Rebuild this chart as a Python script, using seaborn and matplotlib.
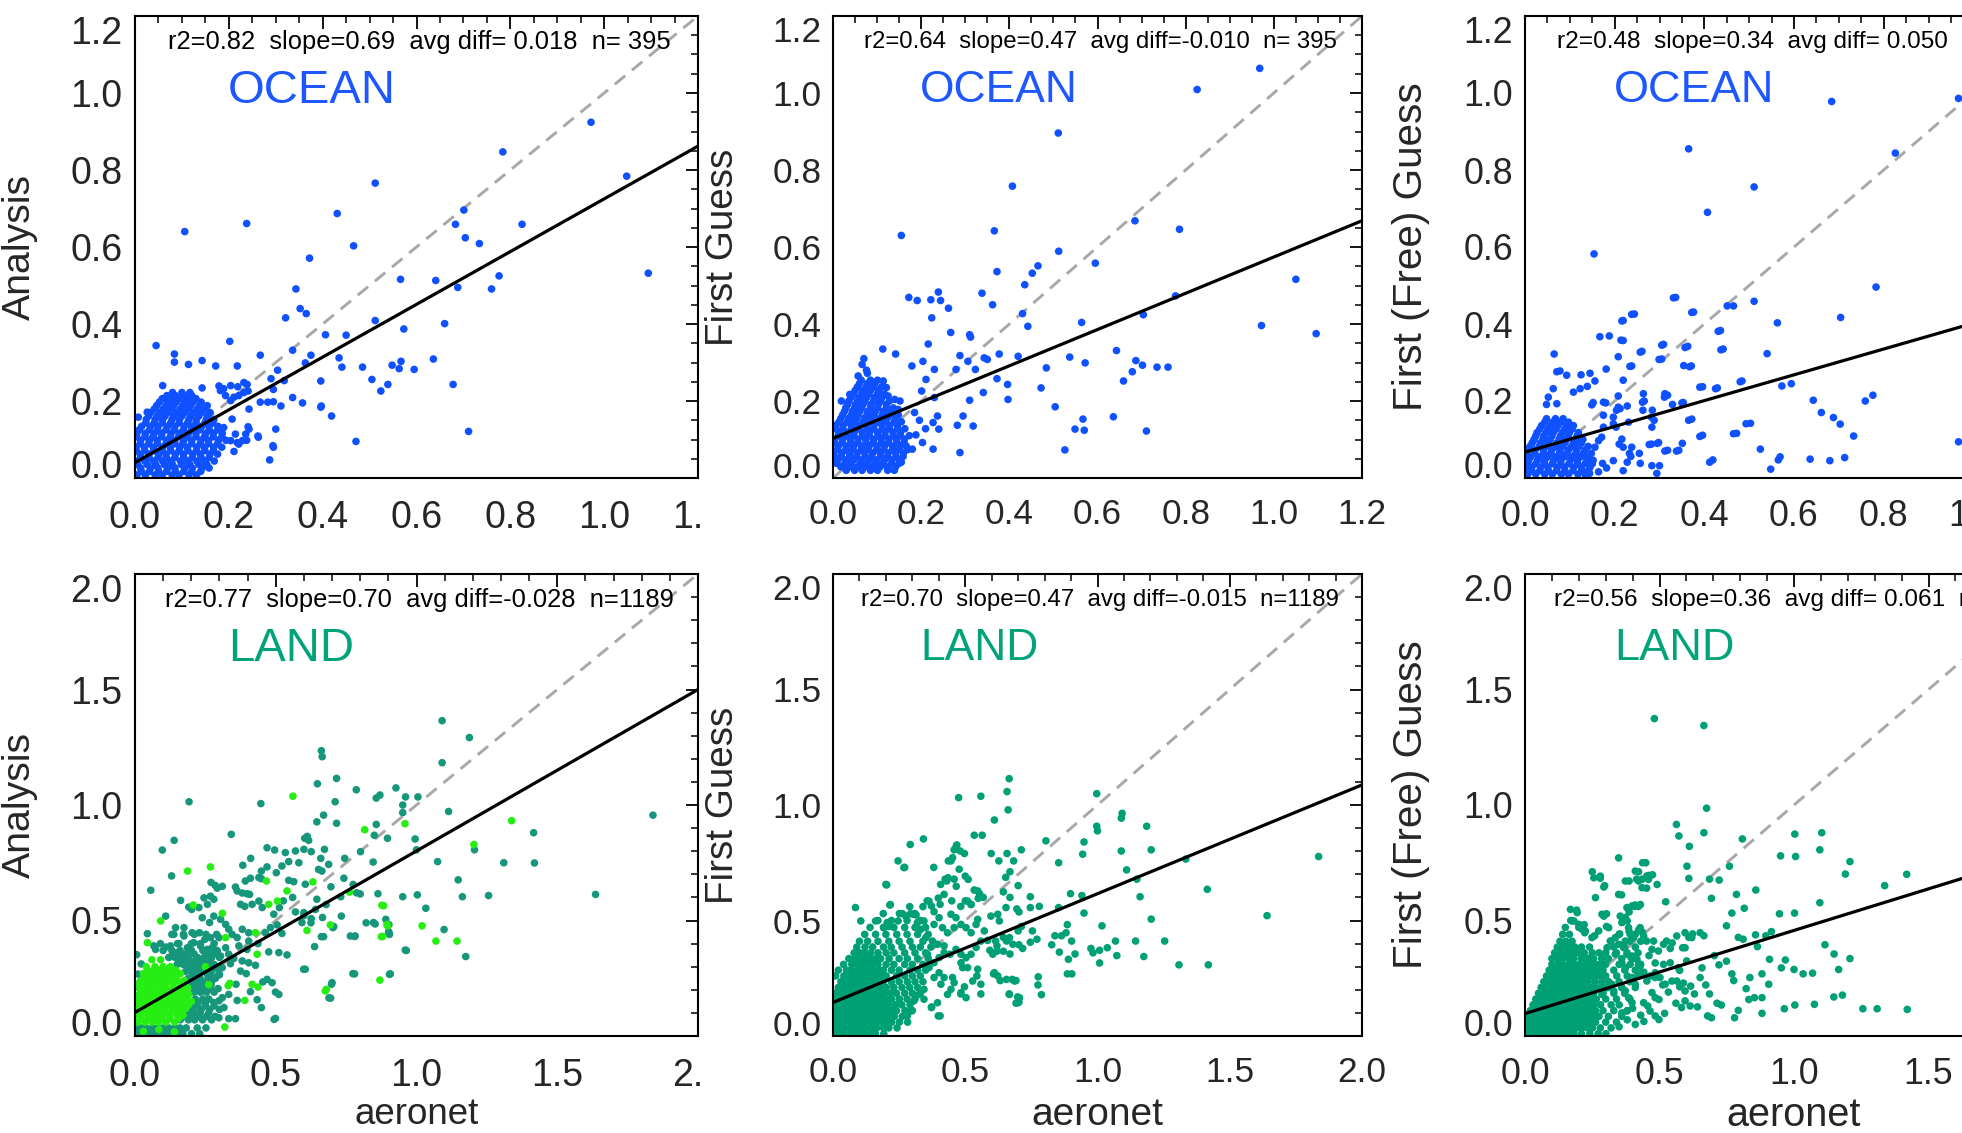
import matplotlib
matplotlib.use("Agg")
import matplotlib.pyplot as plt
import seaborn as sns
import pandas as pd
from matplotlib.ticker import MultipleLocator, FormatStrFormatter
from matplotlib.transforms import Bbox, TransformedBbox

# ---------------- data ----------------
y_labels = ["Analysis", "First Guess", "First (Free) Guess"]
x_label = "aeronet"
region_names = ["OCEAN", "LAND"]
stats_text = [
    "r2=0.82  slope=0.69  avg diff= 0.018  n= 395",
    "r2=0.64  slope=0.47  avg diff=-0.010  n= 395",
    "r2=0.48  slope=0.34  avg diff= 0.050  n= 395",
    "r2=0.77  slope=0.70  avg diff=-0.028  n=1189",
    "r2=0.70  slope=0.47  avg diff=-0.015  n=1189",
    "r2=0.56  slope=0.36  avg diff= 0.061  n=1189",
]
fit_intercepts = [0.040, 0.103, 0.067, 0.102, 0.145, 0.097]
fit_slopes = [0.685, 0.471, 0.335, 0.699, 0.471, 0.360]
ticks_ocean = [0.0, 0.2, 0.4, 0.6, 0.8, 1.0, 1.2]
ticks_land = [0.0, 0.5, 1.0, 1.5, 2.0]

# ---- ocean: analysis ----
oc_ana_pts = [
    (0.972, 0.924), (1.048, 0.784), (1.094, 0.532), (0.784, 0.847), (0.825, 0.659), (0.512, 0.766),
    (0.431, 0.687), (0.238, 0.661), (0.106, 0.640), (0.466, 0.603), (0.372, 0.571), (0.701, 0.696),
    (0.683, 0.659), (0.704, 0.624), (0.734, 0.609), (0.776, 0.525), (0.760, 0.491), (0.688, 0.495),
    (0.641, 0.513), (0.566, 0.516), (0.512, 0.409), (0.573, 0.387), (0.660, 0.401), (0.343, 0.491),
    (0.352, 0.440), (0.365, 0.427), (0.321, 0.416), (0.406, 0.372), (0.450, 0.371), (0.202, 0.355),
    (0.045, 0.344), (0.084, 0.322), (0.084, 0.301), (0.114, 0.295), (0.143, 0.305), (0.172, 0.291),
    (0.218, 0.291), (0.267, 0.319), (0.336, 0.332), (0.375, 0.319), (0.363, 0.299), (0.435, 0.312),
    (0.441, 0.288), (0.485, 0.288), (0.548, 0.293), (0.563, 0.284), (0.567, 0.303), (0.595, 0.282),
    (0.636, 0.309), (0.505, 0.256), (0.539, 0.243), (0.524, 0.226), (0.678, 0.243), (0.711, 0.121),
    (0.471, 0.095), (0.396, 0.252), (0.419, 0.161), (0.397, 0.187), (0.304, 0.280), (0.290, 0.258),
    (0.318, 0.253), (0.295, 0.230), (0.295, 0.198), (0.311, 0.187), (0.336, 0.209), (0.357, 0.195),
    (0.267, 0.197), (0.283, 0.197), (0.262, 0.109), (0.294, 0.084), (0.287, 0.047), (0.241, 0.133),
    (0.211, 0.069), (0.238, 0.098), (0.218, 0.092), (0.059, 0.240), (0.143, 0.234), (0.026, 0.171),
    (0.007, 0.158), (0.396, 0.184), (0.243, 0.179), (0.243, 0.127), (0.263, 0.106), (0.300, 0.127),
    (0.295, 0.080), (0.179, 0.239), (0.189, 0.232), (0.204, 0.240), (0.219, 0.237), (0.232, 0.248),
    (0.239, 0.243), (0.182, 0.227), (0.193, 0.214), (0.204, 0.201), (0.211, 0.210), (0.221, 0.214),
    (0.232, 0.222), (0.241, 0.226), (0.207, 0.153), (0.189, 0.131), (0.214, 0.114), (0.204, 0.097),
    (0.221, 0.088), (0.229, 0.097), (0.236, 0.114),
]
oc_ana_core = [
    (0.008, [0.004, 0.022, 0.043, 0.058, 0.079, 0.094, 0.115, 0.131]),
    (0.017, [0.013, 0.031, 0.050, 0.067, 0.086, 0.104, 0.121, 0.140]),
    (0.026, [0.012, 0.033, 0.049, 0.070, 0.085, 0.106, 0.122, 0.143, 0.158]),
    (0.035, [0.006, 0.026, 0.044, 0.063, 0.080, 0.099, 0.117, 0.136, 0.153]),
    (0.044, [0.003, 0.021, 0.040, 0.059, 0.076, 0.097, 0.112, 0.132, 0.149, 0.169]),
    (0.053, [0.012, 0.030, 0.049, 0.067, 0.085, 0.104, 0.122, 0.141, 0.158]),
    (0.062, [0.011, 0.030, 0.050, 0.066, 0.086, 0.103, 0.123, 0.139, 0.160, 0.176]),
    (0.071, [0.003, 0.021, 0.040, 0.058, 0.076, 0.094, 0.113, 0.131, 0.149, 0.167]),
    (0.080, [0.002, 0.020, 0.039, 0.059, 0.075, 0.095, 0.111, 0.132, 0.148, 0.168, 0.185]),
    (0.089, [0.011, 0.029, 0.048, 0.066, 0.084, 0.102, 0.121, 0.139, 0.157, 0.176]),
    (0.098, [0.012, 0.031, 0.047, 0.068, 0.084, 0.104, 0.121, 0.141, 0.157, 0.178, 0.194]),
    (0.107, [0.003, 0.021, 0.038, 0.057, 0.075, 0.093, 0.112, 0.130, 0.148, 0.167, 0.185]),
    (0.116, [0.004, 0.022, 0.041, 0.057, 0.077, 0.094, 0.114, 0.130, 0.151, 0.167, 0.186]),
    (0.125, [0.009, 0.031, 0.048, 0.066, 0.084, 0.103, 0.121, 0.139, 0.158, 0.176]),
    (0.134, [0.014, 0.033, 0.049, 0.069, 0.085, 0.105, 0.121, 0.142, 0.158, 0.177]),
    (0.143, [0.023, 0.041, 0.058, 0.076, 0.094, 0.112, 0.130, 0.149, 0.166]),
    (0.152, [0.024, 0.043, 0.059, 0.079, 0.095, 0.115, 0.131, 0.152, 0.168]),
    (0.161, [0.029, 0.047, 0.064, 0.082, 0.100, 0.118, 0.136, 0.154]),
    (0.170, [0.033, 0.053, 0.069, 0.089, 0.105, 0.125, 0.141, 0.160]),
    (0.179, [0.041, 0.060, 0.078, 0.096, 0.114, 0.132, 0.150]),
    (0.188, [0.046, 0.066, 0.082, 0.102, 0.118, 0.138, 0.154]),
    (0.197, [0.052, 0.070, 0.088, 0.106, 0.124, 0.141]),
    (0.206, [0.058, 0.078, 0.094, 0.114, 0.130]),
    (0.214, [0.068, 0.086, 0.104, 0.121]),
    (0.222, [0.080, 0.100, 0.117]),
]

# ---- ocean: first guess ----
oc_fg_pts = [
    (0.968, 1.064), (0.826, 1.009), (0.511, 0.896), (0.407, 0.758), (0.155, 0.630), (0.366, 0.642),
    (0.685, 0.668), (0.786, 0.646), (0.512, 0.589), (0.595, 0.558), (0.372, 0.536), (0.465, 0.551),
    (0.452, 0.532), (0.435, 0.502), (1.050, 0.516), (0.777, 0.473), (0.338, 0.480), (0.362, 0.450),
    (0.172, 0.469), (0.191, 0.461), (0.222, 0.463), (0.239, 0.483), (0.244, 0.461), (0.262, 0.441),
    (0.224, 0.416), (0.430, 0.427), (0.442, 0.394), (0.564, 0.404), (0.704, 0.424), (0.972, 0.396),
    (1.096, 0.375), (0.267, 0.378), (0.310, 0.372), (0.312, 0.366), (0.216, 0.348), (0.113, 0.335),
    (0.142, 0.322), (0.288, 0.318), (0.343, 0.312), (0.377, 0.322), (0.420, 0.316), (0.537, 0.314),
    (0.643, 0.331), (0.572, 0.299), (0.687, 0.305), (0.702, 0.293), (0.735, 0.288), (0.760, 0.288),
    (0.679, 0.276), (0.659, 0.252), (0.484, 0.286), (0.306, 0.303), (0.279, 0.282), (0.323, 0.282),
    (0.350, 0.308), (0.372, 0.258), (0.396, 0.243), (0.472, 0.234), (0.341, 0.222), (0.310, 0.202),
    (0.397, 0.204), (0.504, 0.185), (0.636, 0.159), (0.567, 0.153), (0.549, 0.127), (0.570, 0.124),
    (0.711, 0.122), (0.526, 0.073), (0.288, 0.066), (0.282, 0.137), (0.295, 0.161), (0.318, 0.135),
    (0.230, 0.282), (0.204, 0.303), (0.179, 0.291), (0.211, 0.256), (0.201, 0.226), (0.230, 0.209),
    (0.237, 0.161), (0.227, 0.144), (0.240, 0.127), (0.227, 0.075), (0.155, 0.041), (0.070, 0.310),
    (0.066, 0.295), (0.076, 0.280), (0.057, 0.265), (0.038, 0.217), (0.019, 0.200), (0.095, 0.248),
    (0.114, 0.252), (0.121, 0.235), (0.125, 0.213), (0.140, 0.204), (0.152, 0.200), (0.148, 0.178),
    (0.185, 0.170), (0.196, 0.150), (0.210, 0.128), (0.188, 0.112), (0.203, 0.092), (0.180, 0.075),
]
oc_fg_core = [
    (0.020, [0.030, 0.049, 0.066, 0.085, 0.101, 0.124, 0.139]),
    (0.029, [0.018, 0.038, 0.055, 0.072, 0.090, 0.107, 0.124, 0.142]),
    (0.038, [0.008, 0.027, 0.041, 0.062, 0.078, 0.096, 0.113, 0.133, 0.150]),
    (0.047, [0.011, 0.029, 0.047, 0.064, 0.082, 0.099, 0.117, 0.134, 0.152]),
    (0.056, [0.003, 0.019, 0.038, 0.053, 0.073, 0.088, 0.108, 0.124, 0.143, 0.159]),
    (0.065, [0.002, 0.020, 0.037, 0.055, 0.072, 0.090, 0.107, 0.125, 0.142, 0.160]),
    (0.074, [0.010, 0.029, 0.045, 0.064, 0.080, 0.099, 0.115, 0.135, 0.150, 0.170]),
    (0.083, [0.012, 0.030, 0.047, 0.065, 0.082, 0.100, 0.117, 0.135, 0.152, 0.166]),
    (0.092, [0.004, 0.021, 0.040, 0.056, 0.075, 0.091, 0.110, 0.126, 0.145, 0.161]),
    (0.101, [0.004, 0.022, 0.039, 0.057, 0.074, 0.092, 0.109, 0.127, 0.144, 0.162]),
    (0.110, [0.012, 0.032, 0.047, 0.067, 0.082, 0.102, 0.118, 0.137, 0.153, 0.173]),
    (0.119, [0.013, 0.031, 0.048, 0.066, 0.083, 0.101, 0.118, 0.136, 0.153]),
    (0.128, [0.005, 0.022, 0.042, 0.057, 0.077, 0.092, 0.112, 0.128, 0.147, 0.163]),
    (0.137, [0.006, 0.023, 0.041, 0.058, 0.076, 0.093, 0.111, 0.128, 0.146]),
    (0.146, [0.014, 0.033, 0.049, 0.068, 0.084, 0.103, 0.119, 0.139, 0.155]),
    (0.155, [0.018, 0.036, 0.053, 0.071, 0.088, 0.106, 0.123, 0.141]),
    (0.164, [0.022, 0.042, 0.057, 0.077, 0.093, 0.112, 0.128, 0.148]),
    (0.173, [0.026, 0.044, 0.061, 0.079, 0.096, 0.114, 0.131]),
    (0.182, [0.029, 0.049, 0.065, 0.085, 0.101, 0.121, 0.137]),
    (0.191, [0.033, 0.051, 0.068, 0.086, 0.103, 0.121]),
    (0.200, [0.036, 0.056, 0.072, 0.092, 0.108, 0.128]),
    (0.209, [0.041, 0.059, 0.076, 0.094, 0.111]),
    (0.218, [0.046, 0.065, 0.081, 0.101, 0.117]),
    (0.227, [0.050, 0.068, 0.085, 0.103]),
    (0.236, [0.055, 0.075, 0.091, 0.110]),
    (0.245, [0.060, 0.078, 0.095]),
    (0.254, [0.064, 0.085, 0.101]),
    (0.272, [0.078]),
]

# ---- ocean: first (free) guess ----
oc_ffg_pts = [
    (0.684, 0.978), (0.967, 0.986), (0.365, 0.855), (0.826, 0.844), (0.511, 0.756), (0.407, 0.690),
    (0.154, 0.582), (0.783, 0.496), (0.336, 0.469), (0.376, 0.431), (0.451, 0.447), (0.465, 0.447),
    (0.511, 0.459), (0.704, 0.417), (0.244, 0.426), (0.219, 0.409), (0.436, 0.383), (0.563, 0.403),
    (0.540, 0.323), (0.363, 0.342), (0.442, 0.335), (0.309, 0.347), (0.305, 0.309), (0.371, 0.291),
    (0.261, 0.329), (0.238, 0.291), (0.484, 0.252), (0.396, 0.237), (0.429, 0.234), (0.573, 0.239),
    (0.594, 0.245), (0.643, 0.202), (0.661, 0.170), (0.688, 0.157), (0.703, 0.140), (0.759, 0.200),
    (0.776, 0.215), (0.733, 0.109), (0.967, 0.094), (0.503, 0.142), (0.472, 0.116), (0.396, 0.111),
    (0.525, 0.075), (0.569, 0.055), (0.565, 0.047), (0.548, 0.023), (0.419, 0.047), (0.636, 0.049),
    (0.680, 0.045), (0.713, 0.053), (0.354, 0.292), (0.353, 0.196), (0.372, 0.153), (0.343, 0.072),
    (0.318, 0.072), (0.298, 0.092), (0.282, 0.088),
    (0.065, 0.322), (0.071, 0.276), (0.078, 0.278), (0.093, 0.267), (0.063, 0.232), (0.052, 0.210),
    (0.048, 0.191), (0.071, 0.193), (0.108, 0.223), (0.123, 0.232), (0.139, 0.238), (0.125, 0.268),
    (0.145, 0.272), (0.156, 0.252), (0.167, 0.367), (0.188, 0.369), (0.181, 0.283), (0.216, 0.408),
    (0.238, 0.425), (0.214, 0.358), (0.219, 0.357), (0.208, 0.315), (0.234, 0.290), (0.257, 0.327),
    (0.305, 0.345), (0.299, 0.308), (0.331, 0.468), (0.372, 0.430), (0.357, 0.339), (0.367, 0.289),
    (0.431, 0.381), (0.437, 0.333), (0.480, 0.250), (0.425, 0.232), (0.390, 0.236), (0.312, 0.219),
    (0.318, 0.215), (0.264, 0.219), (0.266, 0.200), (0.208, 0.213), (0.175, 0.197), (0.149, 0.190),
    (0.152, 0.196), (0.180, 0.195), (0.208, 0.184), (0.212, 0.180), (0.228, 0.187), (0.175, 0.163),
    (0.197, 0.158), (0.204, 0.176), (0.197, 0.141), (0.203, 0.132), (0.231, 0.145), (0.175, 0.132),
    (0.171, 0.106), (0.164, 0.097), (0.156, 0.080), (0.216, 0.101), (0.210, 0.088), (0.219, 0.080),
    (0.238, 0.080), (0.233, 0.064), (0.236, 0.056), (0.228, 0.041), (0.219, 0.019), (0.255, 0.064),
    (0.277, 0.087), (0.295, 0.090), (0.283, 0.132), (0.288, 0.150), (0.262, 0.197), (0.263, 0.176),
    (0.284, 0.176), (0.282, 0.158), (0.311, 0.210), (0.329, 0.191), (0.350, 0.195), (0.365, 0.150),
    (0.312, 0.070), (0.338, 0.070), (0.351, 0.090), (0.390, 0.108), (0.412, 0.041), (0.283, 0.032),
    (0.300, 0.032), (0.294, 0.012), (0.257, 0.038), (0.197, 0.045), (0.173, 0.038), (0.182, 0.026),
    (0.164, 0.016), (0.144, 0.012), (0.130, 0.017), (0.465, 0.115), (0.493, 0.141), (0.219, 0.254),
]
oc_ffg_core = [
    (0.010, [0.006, 0.024, 0.044, 0.061, 0.081, 0.097, 0.118, 0.134]),
    (0.019, [0.015, 0.033, 0.052, 0.070, 0.089, 0.107, 0.126, 0.142]),
    (0.028, [0.002, 0.015, 0.035, 0.051, 0.072, 0.088, 0.108, 0.125, 0.145]),
    (0.037, [0.006, 0.024, 0.043, 0.061, 0.080, 0.098, 0.117, 0.134, 0.150]),
    (0.046, [0.008, 0.028, 0.044, 0.064, 0.080, 0.101, 0.117, 0.138, 0.152]),
    (0.055, [0.013, 0.031, 0.050, 0.068, 0.087, 0.105, 0.124, 0.141]),
    (0.064, [0.004, 0.021, 0.041, 0.057, 0.077, 0.093, 0.113, 0.130, 0.148]),
    (0.073, [0.005, 0.023, 0.041, 0.060, 0.078, 0.097, 0.115, 0.134]),
    (0.082, [0.011, 0.032, 0.048, 0.068, 0.084, 0.104, 0.120, 0.141]),
    (0.091, [0.016, 0.034, 0.052, 0.071, 0.089, 0.108, 0.126]),
    (0.100, [0.020, 0.040, 0.056, 0.076, 0.092, 0.113, 0.129]),
    (0.109, [0.024, 0.042, 0.060, 0.079, 0.097, 0.116]),
    (0.118, [0.027, 0.047, 0.063, 0.083, 0.099, 0.119]),
    (0.127, [0.033, 0.051, 0.069, 0.088, 0.105]),
    (0.136, [0.037, 0.057, 0.073, 0.093, 0.108]),
    (0.145, [0.044, 0.062, 0.080, 0.097]),
    (0.154, [0.048, 0.068, 0.085]),
]

# ---- land: analysis (two point groups) ----
ld_ana_teal_pts = [
    (1.091, 1.365), (1.188, 1.292), (0.662, 1.235), (0.665, 1.209), (1.091, 1.183), (0.648, 1.092),
    (0.716, 1.115), (0.786, 1.066), (0.927, 1.074), (0.857, 1.030), (0.870, 1.043), (0.961, 1.035),
    (1.005, 1.035), (0.192, 1.014), (0.447, 1.006), (0.711, 1.014), (0.670, 0.956), (0.716, 0.921),
    (0.646, 0.927), (0.951, 1.000), (0.951, 0.967), (1.114, 0.972), (1.416, 0.880), (1.840, 0.956),
    (0.995, 0.853), (1.000, 0.806), (0.857, 0.916), (0.897, 0.856), (0.850, 0.869), (1.206, 0.806),
    (1.310, 0.750), (1.419, 0.749), (1.075, 0.755), (1.148, 0.676), (1.163, 0.603), (1.256, 0.608),
    (1.636, 0.613), (1.003, 0.611), (0.951, 0.603), (1.033, 0.553), (1.098, 0.461), (1.175, 0.344),
    (0.964, 0.370), (0.902, 0.482), (0.902, 0.445), (0.853, 0.485), (0.821, 0.490), (0.780, 0.431),
    (0.780, 0.269), (0.907, 0.269), (0.698, 0.224), (0.695, 0.164), (0.499, 0.076), (0.605, 0.289),
    (0.787, 0.620), (0.800, 0.615), (0.731, 0.603), (0.706, 0.474), (0.666, 0.513), (0.679, 0.569),
    (0.646, 0.592), (0.625, 0.490), (0.600, 0.521), (0.527, 0.585), (0.560, 0.600),
    (0.139, 0.847), (0.097, 0.805), (0.342, 0.873), (0.130, 0.693), (0.056, 0.631), (0.469, 0.815),
    (0.496, 0.805), (0.603, 0.856), (0.612, 0.864), (0.617, 0.847), (0.626, 0.798), (0.600, 0.808),
    (0.570, 0.801), (0.534, 0.794), (0.546, 0.755), (0.411, 0.769), (0.383, 0.739), (0.469, 0.732),
    (0.522, 0.736), (0.582, 0.750), (0.660, 0.769), (0.673, 0.808), (0.652, 0.721), (0.664, 0.714),
    (0.688, 0.743), (0.745, 0.769), (0.801, 0.798), (0.846, 0.753), (0.742, 0.683), (0.775, 0.656),
    (0.696, 0.646), (0.605, 0.657), (0.546, 0.674), (0.564, 0.668), (0.502, 0.707), (0.449, 0.714),
    (0.440, 0.686), (0.449, 0.681), (0.410, 0.683), (0.392, 0.671), (0.357, 0.645), (0.363, 0.628),
    (0.381, 0.619), (0.398, 0.616), (0.407, 0.613), (0.375, 0.570), (0.390, 0.561), (0.416, 0.570),
    (0.440, 0.584), (0.452, 0.556), (0.513, 0.556), (0.493, 0.527), (0.570, 0.537), (0.600, 0.534),
    (0.626, 0.508), (0.641, 0.548), (0.593, 0.491), (0.662, 0.430), (0.703, 0.469), (0.733, 0.519),
    (0.765, 0.433), (0.782, 0.433), (0.847, 0.491), (0.863, 0.616), (0.891, 0.505), (0.901, 0.452),
    (0.904, 0.440), (0.960, 0.372), (0.774, 0.270), (0.700, 0.231), (0.689, 0.165), (0.904, 0.267),
    (0.599, 0.289), (0.494, 0.072), (0.540, 0.351), (0.511, 0.361), (0.475, 0.364), (0.638, 0.387),
    (0.670, 0.430), (0.522, 0.444), (0.505, 0.481), (0.481, 0.469), (0.463, 0.447), (0.437, 0.400),
    (0.404, 0.411), (0.404, 0.447), (0.381, 0.462), (0.363, 0.426), (0.369, 0.390), (0.398, 0.375),
    (0.381, 0.325), (0.404, 0.317), (0.428, 0.306), (0.375, 0.281), (0.395, 0.270), (0.469, 0.245),
    (0.454, 0.234), (0.487, 0.231), (0.499, 0.190), (0.511, 0.180), (0.410, 0.192), (0.363, 0.154),
    (0.333, 0.180), (0.359, 0.224), (0.310, 0.166), (0.298, 0.152), (0.316, 0.123), (0.298, 0.079),
    (0.333, 0.075), (0.357, 0.075), (0.434, 0.157), (0.449, 0.123), (0.339, 0.313), (0.310, 0.296),
    (0.298, 0.270), (0.280, 0.253), (0.270, 0.665), (0.285, 0.652), (0.292, 0.640), (0.310, 0.648),
    (0.245, 0.598), (0.268, 0.605), (0.280, 0.592), (0.191, 0.558), (0.162, 0.587), (0.201, 0.548),
    (0.227, 0.556), (0.257, 0.570), (0.239, 0.512), (0.265, 0.491), (0.280, 0.519), (0.304, 0.505),
    (0.322, 0.483), (0.333, 0.462), (0.345, 0.440), (0.298, 0.426), (0.268, 0.426), (0.248, 0.418),
    (0.229, 0.447), (0.203, 0.447), (0.174, 0.433), (0.186, 0.382), (0.209, 0.404), (0.233, 0.390),
    (0.257, 0.375), (0.274, 0.382), (0.292, 0.368), (0.304, 0.346), (0.322, 0.382), (0.333, 0.354),
    (0.351, 0.336), (0.174, 0.469), (0.144, 0.469), (0.138, 0.440), (0.109, 0.519), (0.044, 0.443),
    (0.067, 0.390), (0.073, 0.375), (0.109, 0.385), (0.126, 0.390), (0.156, 0.400), (0.150, 0.361),
    (0.162, 0.346), (0.051, 0.132), (0.088, 0.203), (0.118, 0.162), (0.011, 0.268), (0.022, 0.312),
    (0.006, 0.352),
]
ld_ana_teal_core = [
    (0.010, [0.010, 0.031, 0.050, 0.072, 0.090, 0.111, 0.130, 0.152, 0.170, 0.201, 0.230]),
    (0.035, [0.000, 0.021, 0.040, 0.062, 0.080, 0.101, 0.120, 0.142, 0.160, 0.182, 0.221, 0.252]),
    (0.070, [0.161, 0.190, 0.212, 0.240, 0.272]),
    (0.085, [0.175, 0.200, 0.225, 0.255, 0.285]),
    (0.100, [0.190, 0.211, 0.232, 0.262]),
    (0.115, [0.205, 0.235, 0.265, 0.300]),
    (0.130, [0.201, 0.222, 0.251, 0.281]),
    (0.145, [0.225, 0.250, 0.280]),
    (0.160, [0.214, 0.241, 0.262]),
    (0.190, [0.210, 0.232, 0.254, 0.281]),
    (0.205, [0.220, 0.243, 0.268, 0.295]),
    (0.220, [0.201, 0.222, 0.246, 0.270]),
    (0.235, [0.215, 0.240, 0.272]),
    (0.250, [0.190, 0.211, 0.231, 0.262, 0.286]),
    (0.265, [0.205, 0.228, 0.258, 0.300]),
    (0.280, [0.180, 0.201, 0.222, 0.245, 0.271]),
    (0.295, [0.190, 0.212, 0.236, 0.262, 0.290]),
    (0.310, [0.150, 0.171, 0.201, 0.226, 0.250, 0.281]),
    (0.325, [0.160, 0.185, 0.212, 0.238, 0.266]),
    (0.340, [0.120, 0.142, 0.171, 0.190, 0.222, 0.245, 0.272, 0.300]),
    (0.355, [0.135, 0.180, 0.210, 0.255, 0.280]),
    (0.370, [0.100, 0.131, 0.160, 0.201, 0.241, 0.262, 0.291]),
    (0.400, [0.090, 0.151, 0.200, 0.232, 0.281]),
    (0.440, [0.131, 0.172, 0.211, 0.252, 0.290]),
]
ld_ana_bright_pts = [
    (0.561, 1.038), (0.959, 0.919), (1.338, 0.932), (0.816, 0.893), (1.204, 0.829), (1.020, 0.477),
    (1.069, 0.411), (1.144, 0.411), (0.880, 0.431), (0.897, 0.477), (0.883, 0.564), (0.870, 0.242),
    (0.680, 0.202), (0.187, 0.714), (0.268, 0.732), (0.762, 0.623), (0.632, 0.667), (0.467, 0.671),
    (0.475, 0.570), (0.506, 0.584), (0.540, 0.628), (0.611, 0.457), (0.694, 0.481), (0.877, 0.566),
    (0.895, 0.483), (0.875, 0.430), (0.676, 0.195), (0.428, 0.447), (0.434, 0.354), (0.437, 0.212),
    (0.416, 0.224), (0.390, 0.154), (0.331, 0.218), (0.337, 0.228), (0.319, 0.039), (0.207, 0.567),
    (0.310, 0.531), (0.322, 0.426), (0.091, 0.498), (0.044, 0.404), (0.250, 0.300), (0.262, 0.222),
    (0.030, 0.020), (0.085, 0.028), (0.140, 0.018),
]
ld_ana_bright_core = [
    (0.060, [0.010, 0.036, 0.061, 0.084, 0.110, 0.141]),
    (0.075, [0.022, 0.048, 0.072, 0.097, 0.125, 0.155]),
    (0.090, [0.000, 0.021, 0.046, 0.070, 0.096, 0.121, 0.150, 0.171]),
    (0.105, [0.008, 0.033, 0.058, 0.083, 0.108, 0.135, 0.162]),
    (0.120, [0.010, 0.031, 0.056, 0.080, 0.106, 0.131, 0.155, 0.181]),
    (0.135, [0.018, 0.043, 0.068, 0.093, 0.118, 0.143, 0.168, 0.190]),
    (0.150, [0.005, 0.026, 0.050, 0.076, 0.100, 0.126, 0.150, 0.176, 0.200]),
    (0.165, [0.003, 0.028, 0.053, 0.078, 0.103, 0.128, 0.153, 0.180]),
    (0.180, [0.015, 0.041, 0.065, 0.091, 0.115, 0.141, 0.165, 0.191]),
    (0.195, [0.023, 0.048, 0.073, 0.098, 0.123, 0.148, 0.175]),
    (0.210, [0.010, 0.036, 0.060, 0.086, 0.110, 0.136, 0.160, 0.186]),
    (0.225, [0.008, 0.033, 0.058, 0.083, 0.108, 0.135, 0.165]),
    (0.240, [0.020, 0.046, 0.070, 0.096, 0.120, 0.151, 0.175]),
    (0.255, [0.035, 0.060, 0.085, 0.110, 0.140]),
    (0.270, [0.030, 0.056, 0.080, 0.106, 0.130, 0.161]),
    (0.285, [0.045, 0.068, 0.090, 0.115, 0.145]),
    (0.300, [0.040, 0.071, 0.100, 0.126]),
    (0.330, [0.060, 0.091]),
]

# ---- land: first guess ----
ld_fg_pts = [
    (0.666, 1.114), (0.658, 1.058), (0.662, 0.979), (0.475, 1.032), (0.559, 1.038), (0.610, 0.935),
    (0.997, 1.049), (0.997, 0.908), (1.000, 0.888), (1.093, 0.964), (1.090, 0.943), (1.186, 0.908),
    (1.203, 0.806), (1.090, 0.801), (0.944, 0.787), (0.949, 0.840), (0.805, 0.845), (0.712, 0.806),
    (0.853, 0.750), (1.334, 0.766), (1.836, 0.777), (1.110, 0.719), (1.149, 0.679), (1.161, 0.603),
    (1.203, 0.506), (1.415, 0.635), (1.641, 0.521), (1.254, 0.411), (1.308, 0.308), (1.419, 0.308),
    (1.144, 0.411), (1.175, 0.344), (1.068, 0.411), (1.037, 0.382), (1.008, 0.371), (0.975, 0.379),
    (0.983, 0.360), (1.008, 0.316), (1.073, 0.348), (1.017, 0.477), (0.949, 0.532), (0.941, 0.608),
    (0.898, 0.616), (0.853, 0.556), (0.886, 0.482), (0.839, 0.434), (0.864, 0.434), (0.881, 0.447),
    (0.902, 0.411), (0.827, 0.395), (0.856, 0.363), (0.890, 0.332), (0.915, 0.355), (0.886, 0.269),
    (0.903, 0.269), (0.776, 0.256), (0.775, 0.221), (0.788, 0.179), (0.698, 0.169), (0.703, 0.147),
    (0.692, 0.142), (0.666, 0.182), (0.656, 0.245), (0.632, 0.240), (0.607, 0.269), (0.678, 0.245),
    (0.692, 0.240), (0.559, 0.182), (0.497, 0.213), (0.483, 0.182), (0.398, 0.087), (0.373, 0.126),
    (0.712, 0.474), (0.700, 0.455), (0.754, 0.455), (0.771, 0.419), (0.703, 0.395), (0.717, 0.379),
    (0.644, 0.427), (0.656, 0.411), (0.615, 0.411), (0.593, 0.371), (0.619, 0.367), (0.669, 0.355),
    (0.644, 0.367), (0.746, 0.406), (0.703, 0.537), (0.695, 0.550), (0.746, 0.556), (0.780, 0.561),
    (0.746, 0.603), (0.700, 0.651), (0.644, 0.624), (0.669, 0.600), (0.653, 0.687), (0.669, 0.711),
    (0.627, 0.758), (0.658, 0.790), (0.683, 0.758), (0.598, 0.790), (0.534, 0.869), (0.564, 0.869),
    (0.497, 0.790), (0.466, 0.821), (0.458, 0.806), (0.436, 0.758), (0.381, 0.730), (0.342, 0.853),
    (0.292, 0.829), (0.246, 0.758), (0.271, 0.730), (0.200, 0.656), (0.085, 0.556), (0.105, 0.498),
    (0.161, 0.498), (0.217, 0.569), (0.407, 0.656), (0.424, 0.679), (0.458, 0.679), (0.466, 0.648),
    (0.500, 0.692), (0.534, 0.632), (0.554, 0.616), (0.568, 0.600), (0.522, 0.569), (0.483, 0.561),
    (0.500, 0.585), (0.449, 0.585), (0.398, 0.597), (0.356, 0.585), (0.314, 0.524), (0.293, 0.529),
    (0.263, 0.529), (0.246, 0.498), (0.212, 0.474),
    (0.268, 0.729), (0.203, 0.654), (0.215, 0.567), (0.192, 0.469), (0.205, 0.491), (0.275, 0.519),
    (0.304, 0.527), (0.319, 0.491), (0.363, 0.584), (0.372, 0.563), (0.382, 0.538), (0.405, 0.570),
    (0.420, 0.613), (0.430, 0.671), (0.435, 0.685), (0.446, 0.758), (0.452, 0.772), (0.468, 0.827),
    (0.481, 0.801), (0.477, 0.722), (0.511, 0.678), (0.547, 0.628), (0.549, 0.596), (0.509, 0.584),
    (0.522, 0.570), (0.446, 0.527), (0.465, 0.512), (0.484, 0.483), (0.503, 0.469), (0.458, 0.469),
    (0.433, 0.447), (0.522, 0.447), (0.541, 0.483), (0.547, 0.505), (0.401, 0.512), (0.382, 0.483),
    (0.414, 0.469), (0.344, 0.498), (0.332, 0.462), (0.351, 0.426), (0.376, 0.411), (0.395, 0.397),
    (0.420, 0.390), (0.443, 0.354), (0.465, 0.375), (0.484, 0.354), (0.503, 0.339), (0.522, 0.354),
    (0.541, 0.383), (0.559, 0.411), (0.585, 0.414), (0.572, 0.455), (0.597, 0.519), (0.623, 0.527),
    (0.629, 0.498), (0.654, 0.556), (0.667, 0.426), (0.680, 0.397), (0.620, 0.390), (0.509, 0.296),
    (0.547, 0.289), (0.544, 0.260), (0.484, 0.317), (0.490, 0.296), (0.458, 0.231), (0.484, 0.188),
    (0.503, 0.166), (0.528, 0.238), (0.559, 0.224), (0.610, 0.274), (0.623, 0.260), (0.667, 0.180),
    (0.686, 0.238), (0.705, 0.166), (0.699, 0.144), (0.604, 0.354), (0.405, 0.087), (0.372, 0.123),
    (0.395, 0.144), (0.344, 0.159), (0.433, 0.180), (0.446, 0.202), (0.408, 0.224), (0.420, 0.253),
    (0.382, 0.253), (0.401, 0.274), (0.363, 0.296), (0.382, 0.317), (0.357, 0.354), (0.401, 0.339),
    (0.420, 0.361), (0.452, 0.253), (0.230, 0.094), (0.281, 0.087), (0.294, 0.108), (0.325, 0.180),
    (0.344, 0.202), (0.306, 0.152),
]
ld_fg_core = [
    (0.010, [0.000, 0.021, 0.040, 0.062, 0.080, 0.101, 0.120, 0.142, 0.160, 0.192]),
    (0.035, [0.005, 0.026, 0.045, 0.067, 0.085, 0.106, 0.125, 0.147, 0.165, 0.191, 0.211, 0.242]),
    (0.060, [0.000, 0.021, 0.040, 0.062, 0.080, 0.101, 0.120, 0.142, 0.160, 0.182, 0.200, 0.222, 0.251, 0.282]),
    (0.085, [0.010, 0.031, 0.050, 0.072, 0.090, 0.111, 0.130, 0.152, 0.170, 0.191, 0.210, 0.232, 0.262]),
    (0.110, [0.000, 0.021, 0.040, 0.062, 0.080, 0.101, 0.120, 0.142, 0.160, 0.182, 0.200, 0.222, 0.240, 0.272, 0.300]),
    (0.135, [0.010, 0.031, 0.050, 0.072, 0.090, 0.111, 0.130, 0.152, 0.170, 0.191, 0.210, 0.236, 0.260, 0.291]),
    (0.160, [0.000, 0.021, 0.040, 0.062, 0.080, 0.101, 0.120, 0.142, 0.160, 0.182, 0.200, 0.222, 0.251, 0.280, 0.310]),
    (0.185, [0.010, 0.031, 0.050, 0.072, 0.090, 0.111, 0.130, 0.152, 0.170, 0.191, 0.216, 0.240, 0.271, 0.300, 0.330]),
    (0.210, [0.020, 0.041, 0.060, 0.082, 0.100, 0.121, 0.140, 0.162, 0.180, 0.201, 0.230, 0.261, 0.290, 0.320]),
    (0.235, [0.030, 0.051, 0.070, 0.092, 0.110, 0.131, 0.150, 0.172, 0.190, 0.221, 0.250, 0.281, 0.310, 0.340]),
    (0.260, [0.010, 0.041, 0.060, 0.082, 0.100, 0.121, 0.140, 0.162, 0.180, 0.201, 0.240, 0.271, 0.300, 0.330]),
    (0.285, [0.020, 0.051, 0.070, 0.092, 0.110, 0.131, 0.150, 0.172, 0.190, 0.221, 0.250, 0.291, 0.320, 0.350]),
    (0.310, [0.040, 0.071, 0.090, 0.111, 0.130, 0.152, 0.170, 0.201, 0.230, 0.271, 0.300, 0.340]),
    (0.335, [0.060, 0.081, 0.100, 0.122, 0.140, 0.161, 0.180, 0.212, 0.250, 0.281, 0.320, 0.360]),
    (0.360, [0.080, 0.101, 0.120, 0.142, 0.170, 0.201, 0.230, 0.271, 0.310, 0.350]),
    (0.385, [0.090, 0.121, 0.150, 0.191, 0.220, 0.261, 0.300, 0.330, 0.370]),
    (0.410, [0.100, 0.131, 0.170, 0.211, 0.250, 0.291, 0.340]),
    (0.440, [0.120, 0.161, 0.200, 0.241, 0.280, 0.320, 0.360]),
    (0.470, [0.140, 0.191, 0.230, 0.271, 0.310, 0.350]),
    (0.500, [0.170, 0.221, 0.280, 0.330]),
    (0.530, [0.190, 0.251, 0.310]),
    (0.560, [0.290, 0.340]),
]

# ---- land: first (free) guess ----
ld_ffg_pts = [
    (0.481, 1.374), (0.665, 1.344), (0.675, 0.986), (0.563, 0.916), (0.665, 0.880), (0.572, 0.866),
    (0.808, 0.853), (1.003, 0.874), (1.103, 0.880), (0.611, 0.821), (0.950, 0.780), (1.006, 0.777),
    (1.096, 0.806), (1.208, 0.755), (1.191, 0.701), (1.419, 0.700), (1.337, 0.651), (0.348, 0.771),
    (0.250, 0.711), (0.280, 0.692), (0.296, 0.651), (0.359, 0.611), (0.387, 0.671), (0.422, 0.711),
    (0.449, 0.750), (0.461, 0.695), (0.474, 0.698), (0.491, 0.656), (0.523, 0.581), (0.452, 0.640),
    (0.436, 0.679), (0.415, 0.679), (0.408, 0.561), (0.422, 0.561), (0.429, 0.569), (0.387, 0.537),
    (0.373, 0.513), (0.380, 0.498), (0.352, 0.442), (0.373, 0.411), (0.303, 0.529), (0.303, 0.474),
    (0.259, 0.434), (0.192, 0.545), (0.220, 0.482), (0.224, 0.455), (0.182, 0.498), (0.602, 0.735),
    (0.609, 0.682), (0.686, 0.679), (0.722, 0.675), (0.760, 0.735), (0.693, 0.596), (0.786, 0.613),
    (0.815, 0.553), (0.858, 0.632), (0.769, 0.532), (0.749, 0.477), (0.793, 0.427), (0.811, 0.419),
    (0.857, 0.438), (0.895, 0.434), (0.916, 0.452), (0.946, 0.529), (1.002, 0.532), (1.096, 0.577),
    (0.864, 0.387), (0.909, 0.332), (0.953, 0.295), (0.968, 0.329), (1.000, 0.288), (1.034, 0.269),
    (1.069, 0.272), (1.115, 0.395), (1.149, 0.355), (1.166, 0.288), (1.208, 0.335), (1.148, 0.169),
    (1.180, 0.177), (1.256, 0.118), (1.309, 0.118), (1.421, 0.115), (1.076, 0.137), (1.003, 0.134),
    (0.964, 0.118), (0.881, 0.098), (0.881, 0.166), (0.853, 0.166), (0.832, 0.158), (0.793, 0.111),
    (0.779, 0.079), (0.822, 0.205), (0.836, 0.253), (0.881, 0.269), (0.906, 0.224), (0.776, 0.240),
    (0.769, 0.269), (0.749, 0.324), (0.704, 0.348), (0.721, 0.308), (0.658, 0.295), (0.651, 0.253),
    (0.672, 0.221), (0.686, 0.182), (0.714, 0.142), (0.730, 0.134), (0.679, 0.087), (0.693, 0.079),
    (0.641, 0.126), (0.630, 0.182), (0.616, 0.216), (0.609, 0.427), (0.623, 0.442), (0.651, 0.447),
    (0.665, 0.434), (0.586, 0.382), (0.547, 0.403), (0.526, 0.411), (0.540, 0.379), (0.575, 0.284),
    (0.589, 0.229), (0.575, 0.213), (0.533, 0.190), (0.561, 0.142), (0.582, 0.123), (0.519, 0.098),
    (0.498, 0.071), (0.484, 0.087), (0.442, 0.063), (0.456, 0.130), (0.498, 0.158), (0.512, 0.221),
    (0.484, 0.253), (0.442, 0.276), (0.461, 0.348), (0.484, 0.316), (0.422, 0.308), (0.394, 0.340),
    (0.366, 0.395), (0.387, 0.453), (0.422, 0.458), (0.436, 0.450), (0.452, 0.411),
    (0.256, 0.685), (0.280, 0.683), (0.262, 0.599), (0.293, 0.645), (0.348, 0.613), (0.373, 0.671),
    (0.410, 0.714), (0.422, 0.671), (0.435, 0.642), (0.437, 0.750), (0.453, 0.693), (0.459, 0.678),
    (0.169, 0.548), (0.194, 0.534), (0.175, 0.498), (0.200, 0.483), (0.212, 0.462), (0.222, 0.447),
    (0.249, 0.426), (0.274, 0.455), (0.286, 0.527), (0.293, 0.519), (0.243, 0.339), (0.311, 0.469),
    (0.317, 0.411), (0.305, 0.382), (0.336, 0.426), (0.354, 0.519), (0.360, 0.491), (0.379, 0.556),
    (0.398, 0.563), (0.410, 0.567), (0.385, 0.469), (0.391, 0.440), (0.404, 0.426), (0.428, 0.469),
    (0.441, 0.433), (0.348, 0.397), (0.367, 0.382), (0.379, 0.354), (0.336, 0.354), (0.360, 0.317),
    (0.373, 0.296), (0.398, 0.346), (0.416, 0.332), (0.428, 0.303), (0.435, 0.274), (0.453, 0.238),
    (0.465, 0.260), (0.398, 0.253), (0.410, 0.224), (0.478, 0.411), (0.472, 0.375), (0.496, 0.368),
    (0.515, 0.397), (0.515, 0.310), (0.540, 0.317), (0.484, 0.274), (0.502, 0.253), (0.521, 0.224),
    (0.546, 0.238), (0.564, 0.433), (0.595, 0.447), (0.595, 0.382), (0.620, 0.426), (0.570, 0.296),
    (0.601, 0.325), (0.564, 0.238), (0.595, 0.195), (0.595, 0.152), (0.614, 0.130), (0.472, 0.188),
    (0.484, 0.166), (0.441, 0.144), (0.465, 0.108), (0.385, 0.166), (0.398, 0.144), (0.379, 0.108),
    (0.360, 0.209), (0.373, 0.195), (0.323, 0.224), (0.330, 0.195), (0.286, 0.180), (0.305, 0.209),
    (0.350, 0.040), (0.380, 0.070), (0.410, 0.050), (0.360, 0.100), (0.400, 0.120), (0.430, 0.090),
]
ld_ffg_core = [
    (0.010, [0.000, 0.021, 0.040, 0.062, 0.080, 0.101, 0.120, 0.142, 0.160, 0.182, 0.210, 0.241, 0.272, 0.301]),
    (0.035, [0.010, 0.031, 0.050, 0.072, 0.090, 0.111, 0.130, 0.152, 0.170, 0.191, 0.211, 0.232, 0.251, 0.280, 0.320]),
    (0.060, [0.000, 0.021, 0.040, 0.062, 0.080, 0.101, 0.120, 0.142, 0.160, 0.182, 0.200, 0.222, 0.242, 0.262, 0.300, 0.340]),
    (0.085, [0.010, 0.031, 0.050, 0.072, 0.090, 0.111, 0.130, 0.152, 0.170, 0.191, 0.210, 0.232, 0.252, 0.275, 0.310, 0.360]),
    (0.110, [0.020, 0.041, 0.060, 0.082, 0.100, 0.121, 0.140, 0.162, 0.180, 0.201, 0.220, 0.242, 0.262, 0.290, 0.330, 0.380]),
    (0.135, [0.030, 0.051, 0.070, 0.092, 0.110, 0.131, 0.150, 0.172, 0.190, 0.211, 0.232, 0.255, 0.281, 0.320, 0.350]),
    (0.160, [0.040, 0.061, 0.080, 0.102, 0.120, 0.141, 0.160, 0.182, 0.200, 0.221, 0.242, 0.265, 0.300, 0.340, 0.390]),
    (0.185, [0.050, 0.071, 0.090, 0.112, 0.130, 0.151, 0.170, 0.192, 0.210, 0.231, 0.255, 0.290, 0.330, 0.370]),
    (0.210, [0.060, 0.081, 0.100, 0.122, 0.140, 0.161, 0.180, 0.202, 0.222, 0.245, 0.262, 0.281, 0.300, 0.320, 0.360, 0.410]),
    (0.235, [0.070, 0.091, 0.110, 0.132, 0.150, 0.171, 0.190, 0.212, 0.235, 0.260, 0.285, 0.311, 0.350, 0.390]),
    (0.260, [0.080, 0.101, 0.120, 0.142, 0.160, 0.181, 0.200, 0.222, 0.245, 0.265, 0.282, 0.300, 0.341, 0.380, 0.420]),
    (0.285, [0.090, 0.111, 0.130, 0.152, 0.170, 0.191, 0.212, 0.235, 0.255, 0.272, 0.290, 0.330, 0.371, 0.410]),
    (0.310, [0.100, 0.121, 0.140, 0.162, 0.180, 0.201, 0.225, 0.245, 0.265, 0.282, 0.300, 0.350, 0.391, 0.430]),
    (0.335, [0.100, 0.121, 0.140, 0.162, 0.182, 0.210, 0.232, 0.255, 0.285, 0.310, 0.360, 0.400]),
    (0.360, [0.110, 0.131, 0.150, 0.172, 0.195, 0.220, 0.250, 0.275, 0.300, 0.340, 0.380, 0.420]),
    (0.385, [0.120, 0.141, 0.162, 0.185, 0.210, 0.240, 0.330, 0.370, 0.410]),
    (0.410, [0.130, 0.152, 0.175, 0.320, 0.390, 0.430]),
    (0.440, [0.140, 0.165, 0.350, 0.410]),
    (0.470, [0.150, 0.200]),
    (0.500, [0.170]),
]


def collect(pts, rows):
    xs = [p[0] for p in pts]
    ys = [p[1] for p in pts]
    for yv, row in rows:
        for xv in row:
            xs.append(xv)
            ys.append(yv)
    return pd.DataFrame({"aeronet": xs, "model": ys})


OCEAN_BLUE = "#0f50ff"
OCEAN_TEXT = "#1c57ff"
LAND_TEAL = "#00a077"
LAND_TEAL_A = "#16977b"
LAND_BRIGHT = "#26ee12"
LAND_TEXT = "#00a37a"

panels = [
    [(collect(oc_ana_pts, oc_ana_core), OCEAN_BLUE)],
    [(collect(oc_fg_pts, oc_fg_core), OCEAN_BLUE)],
    [(collect(oc_ffg_pts, oc_ffg_core), OCEAN_BLUE)],
    [(collect(ld_ana_teal_pts, ld_ana_teal_core), LAND_TEAL_A),
     (collect(ld_ana_bright_pts, ld_ana_bright_core), LAND_BRIGHT)],
    [(collect(ld_fg_pts, ld_fg_core), LAND_TEAL)],
    [(collect(ld_ffg_pts, ld_ffg_core), LAND_TEAL)],
]

# ---------------- figure ----------------
sns.set_theme(style="white")
plt.rcParams["font.family"] = ["Liberation Sans", "DejaVu Sans"]
plt.rcParams["axes.edgecolor"] = "black"
plt.rcParams["axes.linewidth"] = 1.5

W, H = 1962, 1133
fig = plt.figure(figsize=(W / 100, H / 100), dpi=100)
fig.patch.set_facecolor("white")

col_left = [135, 833, 1525]
col_width = [563, 529, 538]
row_top = [16, 574]
row_h = 462
col_scale = [1.0, 0.94, 0.955]
ylab_x = [-0.204, -0.208, -0.212]
ylab_size = [28.3, 27.8, 29.2]
xlab_size = [26.5, 28.0, 28.5]

axes = {}
for r in range(2):
    for c in range(3):
        i = r * 3 + c
        s = col_scale[c]
        left, wid, top = col_left[c], col_width[c], row_top[r]
        ax = fig.add_axes([left / W, 1 - (top + row_h) / H, wid / W, row_h / H])
        axes[(r, c)] = ax
        lim = ticks_ocean[-1] if r == 0 else ticks_land[-1]
        ticks = ticks_ocean if r == 0 else ticks_land
        minor = 0.05 if r == 0 else 0.1

        ax.axline((0, 0), slope=1, color="#a8a8a8", lw=2.1, dashes=(4.6, 3.0), zorder=1.5)
        for df, col in panels[i]:
            sns.scatterplot(data=df, x="aeronet", y="model", ax=ax, color=col, s=30,
                            linewidth=0, edgecolor="none", legend=False, zorder=2)
        ax.axline((0, fit_intercepts[i]), slope=fit_slopes[i], color="black", lw=2.3, zorder=3)

        ax.set_xlim(0, lim)
        ax.set_ylim(0, lim)
        ax.set_xticks(ticks)
        ax.set_yticks(ticks)
        ax.xaxis.set_minor_locator(MultipleLocator(minor))
        ax.yaxis.set_minor_locator(MultipleLocator(minor))
        ax.xaxis.set_major_formatter(FormatStrFormatter("%.1f"))
        ax.yaxis.set_major_formatter(FormatStrFormatter("%.1f"))
        ax.tick_params(which="both", direction="in", top=True, right=True, color="black")
        ax.tick_params(which="major", length=9, width=1.3, labelsize=27 * s)
        ax.tick_params(which="minor", length=5, width=1.1)
        ax.tick_params(axis="x", which="major", pad=15.5 * s)
        ax.tick_params(axis="y", which="major", pad=9 * s)
        for sp in ax.spines.values():
            sp.set_color("black")
            sp.set_linewidth(1.5)

        ax.set_ylabel(y_labels[c], fontsize=ylab_size[c], va="center")
        ax.yaxis.set_label_coords(ylab_x[c], 0.5)
        if r == 1:
            ax.set_xlabel(x_label, fontsize=xlab_size[c], va="center")
            ax.xaxis.set_label_coords(0.5, -0.170)
        else:
            ax.set_xlabel("")

        ax.text(0.505, 0.944, stats_text[i], transform=ax.transAxes, ha="center", va="center",
                fontsize=18.4 * s, color="black", zorder=4)
        ax.text(0.165, 0.838, region_names[r], transform=ax.transAxes, ha="left", va="center",
                fontsize=34 * s, color=OCEAN_TEXT if r == 0 else LAND_TEXT, zorder=4)

fig.canvas.draw()
for (r, c), ax in axes.items():
    yt = ax.yaxis.get_major_ticks()
    yt[0].label1.set_verticalalignment("baseline")
    yt[-1].label1.set_verticalalignment("top")
    if c == 0:
        last = ax.xaxis.get_major_ticks()[-1].label1
        clip = TransformedBbox(Bbox.from_extents(0, 0, 700 / W, 1), fig.transFigure)
        last.set_clip_box(clip)
        last.set_clip_on(True)

fig.savefig("out.png", dpi=100, facecolor="white")
